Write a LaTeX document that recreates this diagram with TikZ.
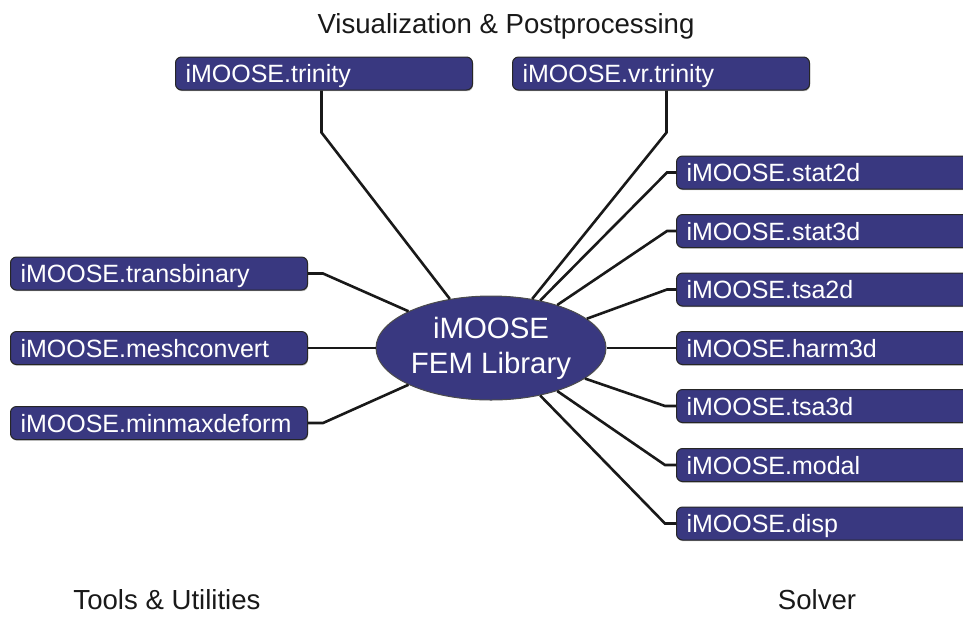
\documentclass[tikz,border=0pt]{standalone}
\usepackage{fontspec}
\setmainfont{Liberation Sans}
\usetikzlibrary{shapes.geometric}
\usetikzlibrary{shadows}
\definecolor{moosebl}{RGB}{57,56,128}

\begin{document}
\begin{tikzpicture}[x=0.5pt,y=-0.5pt,
		modbox/.style={draw=black!85,line width=0.5pt,fill=moosebl,rounded corners=3pt,text=white,anchor=west,minimum width=148.5pt,minimum height=16.5pt,inner xsep=5pt,inner ysep=0pt,text width=138.5pt,text height=10pt,text depth=1pt,align=left,font=\fontsize{12.5}{15}\selectfont,drop shadow={shadow xshift=0.3pt,shadow yshift=-0.6pt,fill=black!50,opacity=0.6}},
		libnode/.style={ellipse,draw=black!70,line width=0.5pt,fill=moosebl,text=white,minimum width=115pt,minimum height=52pt,inner sep=0pt,align=center,font=\fontsize{14.7}{17.5}\selectfont},
		link/.style={line width=1.3pt,draw=black!90},
		heading/.style={anchor=base,text=black!90,font=\fontsize{13.8}{16}\selectfont}]
			\useasboundingbox (0,0) rectangle (963,617);
			\clip (0,0) rectangle (963,617);
			
			\node[heading] (vis) at (506,33) {Visualization \& Postprocessing};
			\node[heading] (tools) at (167,609) {Tools \& Utilities};
			\node[heading] (solver) at (817,609) {Solver};
			
			\node[libnode] (lib) at (491,348) {iMOOSE\\FEM Library};
			
			\node[modbox] (trinity) at (175,73.5) {iMOOSE.trinity};
			\node[modbox] (vrtrinity) at (512,73.5) {iMOOSE.vr.trinity};
			
			\node[modbox] (transbinary) at (10,273.5) {iMOOSE.transbinary};
			\node[modbox] (meshconvert) at (10,348) {iMOOSE.meshconvert};
			\node[modbox] (minmaxdeform) at (10,423) {iMOOSE.minmaxdeform};
			
			\node[modbox] (stattwo) at (676,172.5) {iMOOSE.stat2d};
			\node[modbox] (statthree) at (676,231) {iMOOSE.stat3d};
			\node[modbox] (tsatwo) at (676,289.5) {iMOOSE.tsa2d};
			\node[modbox] (harm) at (676,348) {iMOOSE.harm3d};
			\node[modbox] (tsathree) at (676,406) {iMOOSE.tsa3d};
			\node[modbox] (modal) at (676,465) {iMOOSE.modal};
			\node[modbox] (disp) at (676,523.5) {iMOOSE.disp};
			
			\draw[link] ([xshift=-1.25pt]trinity.south) -- ++(0,42) -- (lib.130);
			\draw[link] ([xshift=2.75pt]vrtrinity.south) -- ++(0,42) -- (lib.50);
			
			\draw[link] (transbinary.east) -- ++(15,0) -- (lib.156);
			\draw[link] (meshconvert.east) -- (lib.west);
			\draw[link] (minmaxdeform.east) -- ++(15,0) -- (lib.204);
			
			\draw[link] (stattwo.west) -- ++(-9,0) -- (lib.44);
			\draw[link] (statthree.west) -- ++(-9,0) -- (lib.33);
			\draw[link] (tsatwo.west) -- ++(-9,0) -- (lib.17);
			\draw[link] (harm.west) -- (lib.east);
			\draw[link] (tsathree.west) -- ++(-11,0) -- (lib.-18);
			\draw[link] (modal.west) -- ++(-11,0) -- (lib.-33);
			\draw[link] (disp.west) -- ++(-11,0) -- (lib.-44);
			
		\end{tikzpicture}
\end{document}
